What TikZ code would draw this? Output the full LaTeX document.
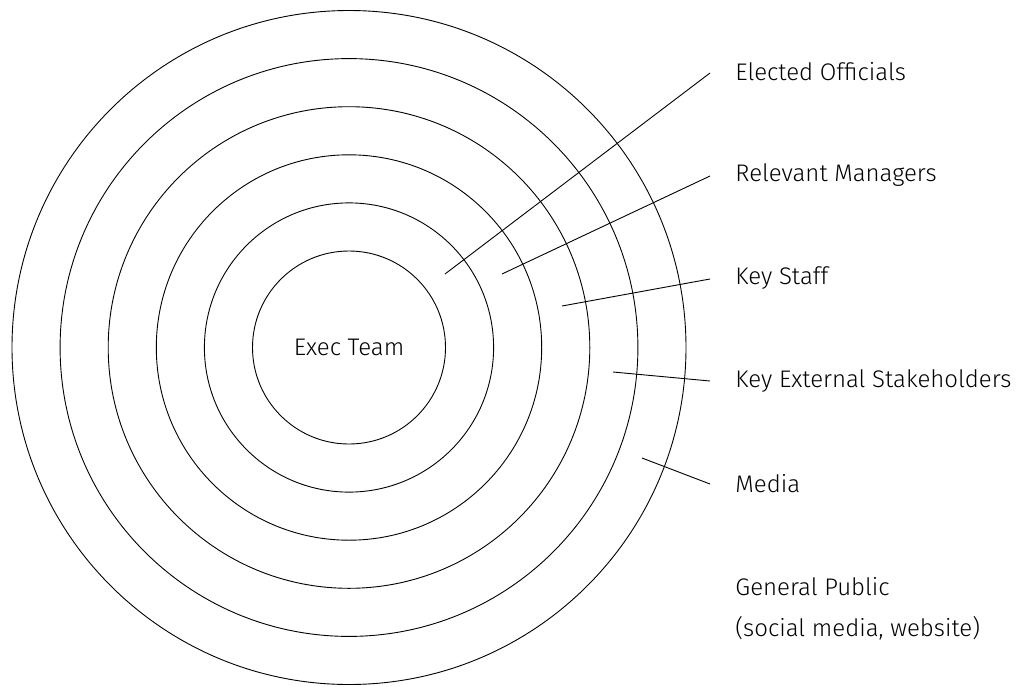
\documentclass[tikz,border=0pt]{standalone}
\usepackage{fontspec}
\setmainfont{Fira Sans}[UprightFont=* Light]
\begin{document}
\begin{tikzpicture}[x=1pt,y=-1pt,line width=0.9pt,
  ring/.style={draw},
  lbl/.style={anchor=west, inner sep=0pt, font=\fontsize{24}{41}\selectfont, align=left},
  pointer/.style={draw}]
  \useasboundingbox (0,0) rectangle (1018,686);

  % rings
  \coordinate (c) at (349,347.5);
  \foreach \r in {96.5,144.6,192.7,240.8,288.9,337}
    \draw[ring] (c) circle[radius=\r];
  \node[font=\fontsize{24}{28}\selectfont] (exec) at (c) {Exec Team};

  % labels
  \node[lbl] (eo) at (735,72) {Elected Officials};
  \node[lbl] (rm) at (735,175) {Relevant Managers};
  \node[lbl] (ks) at (735,278) {Key Staff};
  \node[lbl] (kes) at (735,381) {Key External Stakeholders};
  \node[lbl] (med) at (735,484) {Media};
  \node[lbl] (gp) at (735,609) {General Public\\(social media, website)};

  % pointer ends inside the rings
  \coordinate (p1) at (445,274);
  \coordinate (p2) at (502,274);
  \coordinate (p3) at (562,306);
  \coordinate (p4) at (613,372);
  \coordinate (p5) at (642,458);

  \draw[pointer] (p1) -- ([xshift=-25pt,yshift=-1pt]eo.west);
  \draw[pointer] (p2) -- ([xshift=-25pt,yshift=-1pt]rm.west);
  \draw[pointer] (p3) -- ([xshift=-25pt,yshift=-1pt]ks.west);
  \draw[pointer] (p4) -- ([xshift=-25pt]kes.west);
  \draw[pointer] (p5) -- ([xshift=-25pt]med.west);
\end{tikzpicture}
\end{document}
